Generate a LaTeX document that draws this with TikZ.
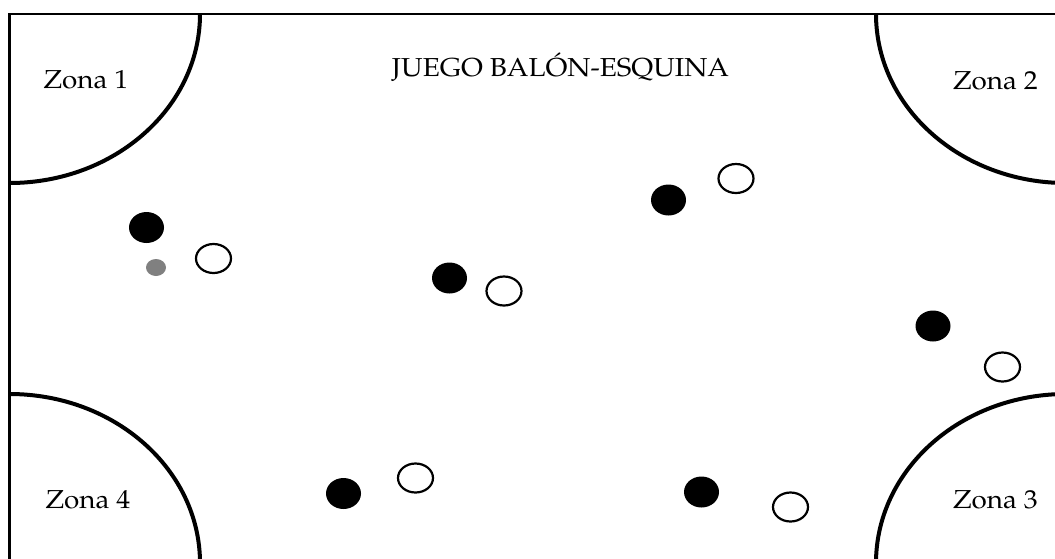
\documentclass[tikz,border=0pt]{standalone}
\usepackage[T1]{fontenc}
\usepackage{mathpazo}
\usetikzlibrary{shapes.geometric}
\begin{document}
\begin{tikzpicture}[x=1pt,y=-1pt,
  frameline/.style={line width=2.4pt},
  zonearc/.style={line width=4pt},
  label/.style={font=\fontsize{26}{30}\selectfont, anchor=base, inner sep=0pt, xscale=1.07},
  blackp/.style={ellipse, fill=black, inner sep=0pt, minimum width=35pt, minimum height=31pt},
  whitep/.style={ellipse, draw=black, fill=white, line width=2.2pt, inner sep=0pt, minimum width=35pt, minimum height=29pt},
  ballp/.style={ellipse, fill=gray, inner sep=0pt, minimum width=20pt, minimum height=17pt}]
\useasboundingbox (0,0) rectangle (1055,558);
\fill[white] (0,0) rectangle (1055,558);
\begin{scope}
\clip (0,0) rectangle (1055,558);
\draw[frameline] (1080,14) -- (9.5,14) -- (9.5,580);
\draw[zonearc] (200,14) arc[start angle=0, end angle=90, x radius=190.5, y radius=169];
\draw[zonearc] (876,14) arc[start angle=180, end angle=90, x radius=190, y radius=169];
\draw[zonearc] (9.5,394) arc[start angle=-90, end angle=0, x radius=190.5, y radius=169];
\draw[zonearc] (1066,394) arc[start angle=-90, end angle=-180, x radius=190, y radius=169];
\end{scope}
\node[label] (title) at (560.5,76) {JUEGO BAL\'ON-ESQUINA};
\node[label] (z1) at (86,88.5) {Zona 1};
\node[label] (z2) at (995.5,89) {Zona 2};
\node[label] (z4) at (88,508.3) {Zona 4};
\node[label] (z3) at (995.5,508.3) {Zona 3};
% players
\node[blackp] (b1) at (146.5,227.5) {};
\node[ballp] (ball) at (156,267.5) {};
\node[whitep] (w1) at (213.5,258.5) {};
\node[blackp] (b2) at (449.5,278) {};
\node[whitep] (w2) at (504,291) {};
\node[blackp] (b3) at (668.5,200) {};
\node[whitep] (w3) at (736,178.5) {};
\node[blackp] (b4) at (933,326) {};
\node[whitep] (w4) at (1002.5,367) {};
\node[blackp] (b5) at (343.5,493.5) {};
\node[whitep] (w5) at (415.5,478) {};
\node[blackp] (b6) at (701.5,492) {};
\node[whitep] (w6) at (790.5,507) {};
\end{tikzpicture}
\end{document}
